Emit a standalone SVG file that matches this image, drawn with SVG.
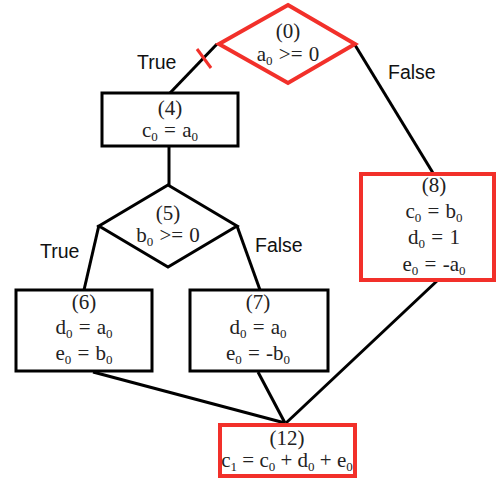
<svg xmlns="http://www.w3.org/2000/svg" width="497" height="479" viewBox="0 0 497 479">
<style>
.bg{fill:#fff}
.nb{fill:#fff;stroke:#000;stroke-width:3}
.nr{fill:#fff;stroke:#f2302a;stroke-width:4}
.e{stroke:#000;stroke-width:3;fill:none}
.tk{stroke:#f2302a;stroke-width:3}
.t{font-family:"Liberation Serif","Times New Roman",serif;font-size:21px;fill:#222;text-anchor:middle;word-spacing:1px}
.l{font-family:"Liberation Sans",Arial,sans-serif;font-size:19.5px;fill:#111}
.s{font-size:13px}
.ns{word-spacing:0}
</style>
<rect class="bg" x="0" y="0" width="497" height="479"/>
<g id="connectors">
<line class="e" x1="217" y1="44" x2="170" y2="93"/>
<line class="tk" x1="197" y1="49" x2="211" y2="68"/>
<line class="e" x1="355" y1="45" x2="433" y2="173"/>
<line class="e" x1="169" y1="146" x2="169" y2="185"/>
<line class="e" x1="99" y1="225" x2="84" y2="290"/>
<line class="e" x1="237" y1="226" x2="260" y2="290"/>
<line class="e" x1="93" y1="372" x2="285" y2="423"/>
<line class="e" x1="258" y1="372" x2="285" y2="423"/>
<line class="e" x1="438" y1="280" x2="286" y2="423"/>
<text class="l" x="137" y="69">True</text>
<text class="l" x="388" y="79">False</text>
<text class="l" x="40" y="258">True</text>
<text class="l" x="255" y="252">False</text>
</g>
<g id="n0">
<polygon class="nr" points="288,5 355,44 288,83 219,44"/>
<text class="t" x="288" y="38">(0)</text>
<text class="t" x="288" y="61">a<tspan class="s" dy="4">0</tspan><tspan dy="-4"> &gt;= 0</tspan></text>
</g>
<g id="n4">
<rect class="nb" x="102" y="93" width="136" height="53"/>
<text class="t" x="170" y="115">(4)</text>
<text class="t" x="170" y="137">c<tspan class="s" dy="4">0</tspan><tspan dy="-4"> = a</tspan><tspan class="s" dy="4">0</tspan></text>
</g>
<g id="n5">
<polygon class="nb" points="168,185 237,226 168,267 99,226"/>
<text class="t" x="168" y="220">(5)</text>
<text class="t" x="168" y="242">b<tspan class="s" dy="4">0</tspan><tspan dy="-4"> &gt;= 0</tspan></text>
</g>
<g id="n8">
<rect class="nr" x="361" y="174" width="133" height="106"/>
<text class="t" x="434" y="192">(8)</text>
<text class="t" x="434" y="218">c<tspan class="s" dy="4">0</tspan><tspan dy="-4"> = b</tspan><tspan class="s" dy="4">0</tspan></text>
<text class="t" x="434" y="244">d<tspan class="s" dy="4">0</tspan><tspan dy="-4"> = 1</tspan></text>
<text class="t" x="434" y="271">e<tspan class="s" dy="4">0</tspan><tspan dy="-4"> = -a</tspan><tspan class="s" dy="4">0</tspan></text>
</g>
<g id="n6">
<rect class="nb" x="16" y="290" width="136" height="81"/>
<text class="t" x="84" y="309">(6)</text>
<text class="t" x="84" y="334">d<tspan class="s" dy="4">0</tspan><tspan dy="-4"> = a</tspan><tspan class="s" dy="4">0</tspan></text>
<text class="t" x="84" y="360">e<tspan class="s" dy="4">0</tspan><tspan dy="-4"> = b</tspan><tspan class="s" dy="4">0</tspan></text>
</g>
<g id="n7">
<rect class="nb" x="190" y="290" width="138" height="81"/>
<text class="t" x="258" y="309">(7)</text>
<text class="t" x="258" y="334">d<tspan class="s" dy="4">0</tspan><tspan dy="-4"> = a</tspan><tspan class="s" dy="4">0</tspan></text>
<text class="t" x="258" y="360">e<tspan class="s" dy="4">0</tspan><tspan dy="-4"> = -b</tspan><tspan class="s" dy="4">0</tspan></text>
</g>
<g id="n12">
<rect class="nr" x="220" y="425" width="135" height="51"/>
<text class="t" x="287" y="445">(12)</text>
<text class="t ns" x="287" y="467">c<tspan class="s" dy="4">1</tspan><tspan dy="-4"> = c</tspan><tspan class="s" dy="4">0</tspan><tspan dy="-4"> + d</tspan><tspan class="s" dy="4">0</tspan><tspan dy="-4"> + e</tspan><tspan class="s" dy="4">0</tspan></text>
</g>
</svg>
